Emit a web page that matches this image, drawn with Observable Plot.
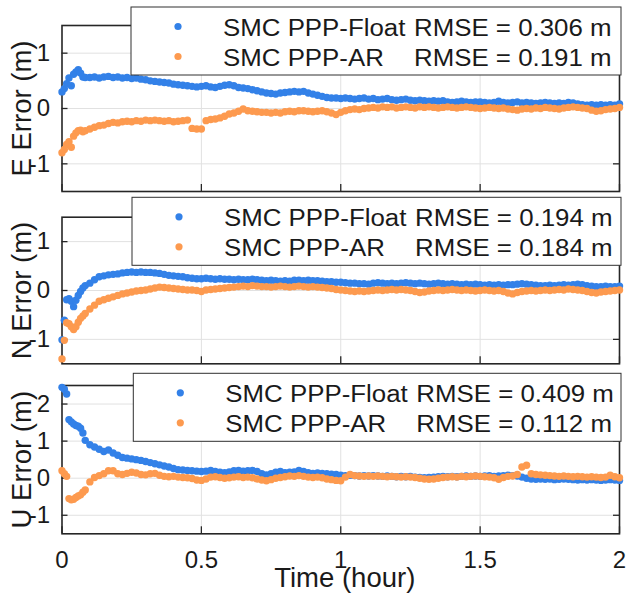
<!DOCTYPE html>
<html><head><meta charset="utf-8">
<script src="https://cdn.jsdelivr.net/npm/d3@7"></script>
<script src="https://cdn.jsdelivr.net/npm/@observablehq/plot@0.6"></script>
<style>
body{margin:0;background:#fff;}
#wrap{position:relative;width:627px;height:594px;overflow:hidden;font-family:"Liberation Sans",Arial,sans-serif;background:#fff;}
#wrap svg{display:block;}
#legend{position:absolute;left:0;top:0;}
</style></head><body><div id="wrap"></div>
<script>
// epochs in minutes (30 s for the first 5 minutes, then 1 min)
const timeMin = [0,0.5,1,1.5,2,2.5,3,3.5,4,4.5,5, ...d3.range(6,121)];

const eFloat = [0.30,0.36,0.45,0.55,0.41,0.62,0.66,0.70,0.64,0.57,0.56,
 0.56,0.57,0.55,0.57,0.58,0.56,0.57,0.55,0.56,0.54,
 0.55,0.53,0.52,0.50,0.49,0.48,0.47,0.46,0.44,0.43,
 0.42,0.41,0.40,0.39,0.40,0.41,0.39,0.38,0.40,0.42,
 0.43,0.41,0.38,0.37,0.36,0.34,0.32,0.30,0.28,0.27,
 0.26,0.28,0.29,0.30,0.31,0.30,0.31,0.28,0.26,0.24,
 0.22,0.20,0.19,0.19,0.18,0.19,0.18,0.17,0.18,0.19,
 0.17,0.18,0.16,0.17,0.18,0.16,0.15,0.16,0.17,0.15,
 0.14,0.15,0.14,0.13,0.14,0.13,0.14,0.12,0.11,0.12,
 0.13,0.12,0.11,0.12,0.12,0.11,0.10,0.11,0.13,0.11,
 0.10,0.11,0.12,0.10,0.11,0.10,0.09,0.10,0.11,0.10,
 0.09,0.10,0.09,0.11,0.10,0.08,0.07,0.06,0.07,0.06,
 0.07,0.06,0.07,0.06,0.08];
const eAR = [-0.80,-0.74,-0.65,-0.60,-0.70,-0.50,-0.44,-0.40,-0.39,-0.42,-0.40,
 -0.37,-0.34,-0.31,-0.30,-0.27,-0.25,-0.26,-0.24,-0.23,-0.24,
 -0.22,-0.23,-0.21,-0.22,-0.21,-0.22,-0.23,-0.22,-0.24,-0.23,
 -0.22,-0.21,-0.36,-0.37,-0.37,-0.22,-0.20,-0.19,-0.17,-0.14,
 -0.10,-0.08,-0.05,-0.01,-0.04,-0.05,-0.06,-0.07,-0.07,-0.08,
 -0.07,-0.08,-0.06,-0.05,-0.06,-0.04,-0.04,-0.05,-0.06,-0.05,
 -0.04,-0.06,-0.08,-0.11,-0.07,-0.04,-0.02,-0.01,-0.02,0.00,
 0.01,0.02,0.01,0.03,0.02,0.03,0.01,0.02,0.03,0.02,
 0.01,0.03,0.02,0.03,0.02,0.01,0.02,0.03,0.02,0.01,
 0.02,0.03,0.02,0.01,0.00,0.01,0.02,0.01,0.00,0.01,
 -0.01,-0.02,-0.03,-0.01,0.00,-0.01,0.01,0.00,0.02,0.01,
 0.00,-0.01,0.01,0.02,0.03,0.02,0.01,0.00,-0.03,-0.05,
 -0.04,-0.02,-0.01,0.00,0.02];

const nFloat = [-1.01,-0.61,-0.19,-0.17,-0.22,-0.33,-0.20,-0.10,-0.02,0.05,0.10,
 0.15,0.22,0.28,0.30,0.32,0.33,0.34,0.36,0.37,0.38,
 0.37,0.38,0.37,0.37,0.36,0.35,0.33,0.31,0.30,0.29,
 0.28,0.26,0.25,0.24,0.24,0.25,0.24,0.23,0.24,0.23,
 0.23,0.22,0.23,0.22,0.22,0.23,0.22,0.21,0.20,0.21,
 0.20,0.19,0.20,0.19,0.21,0.21,0.20,0.21,0.20,0.20,
 0.19,0.18,0.18,0.17,0.17,0.16,0.15,0.15,0.14,0.14,
 0.13,0.15,0.16,0.15,0.14,0.15,0.14,0.15,0.16,0.15,
 0.14,0.15,0.14,0.13,0.14,0.15,0.14,0.13,0.14,0.13,
 0.12,0.13,0.12,0.13,0.12,0.11,0.12,0.11,0.12,0.11,
 0.12,0.12,0.13,0.14,0.13,0.12,0.11,0.10,0.10,0.11,
 0.10,0.11,0.12,0.11,0.12,0.13,0.12,0.10,0.09,0.08,
 0.08,0.09,0.08,0.08,0.09];
const nAR = [-1.40,-1.02,-0.66,-0.68,-0.74,-0.80,-0.74,-0.65,-0.57,-0.52,-0.47,
 -0.38,-0.30,-0.22,-0.19,-0.16,-0.13,-0.10,-0.07,-0.05,-0.03,
 -0.01,0.00,0.01,0.03,0.05,0.07,0.06,0.05,0.04,0.03,
 0.02,0.01,0.01,0.00,-0.02,0.01,0.02,0.03,0.04,0.05,
 0.06,0.07,0.08,0.09,0.08,0.10,0.09,0.08,0.08,0.07,
 0.08,0.09,0.08,0.07,0.08,0.09,0.08,0.07,0.08,0.07,
 0.06,0.05,0.04,0.02,0.01,0.00,-0.01,-0.02,-0.01,-0.02,
 -0.01,0.00,0.01,0.00,0.01,0.02,0.01,0.02,0.01,0.00,
 -0.02,-0.04,-0.03,-0.01,0.00,0.01,0.00,0.01,0.02,0.01,
 0.00,0.01,0.00,-0.01,0.00,0.01,0.00,-0.01,0.00,-0.02,
 -0.05,-0.07,-0.04,-0.02,-0.01,0.00,-0.01,0.00,0.01,0.00,
 0.01,0.02,0.01,0.03,0.02,0.01,0.00,-0.02,-0.04,-0.05,
 -0.03,-0.02,-0.01,0.00,0.01];

const uFloat = [2.45,2.40,2.27,1.58,1.52,1.46,1.42,1.40,1.35,1.22,1.02,
 0.90,0.84,0.78,0.72,0.76,0.68,0.62,0.56,0.54,0.52,
 0.50,0.48,0.45,0.42,0.39,0.36,0.33,0.30,0.26,0.23,
 0.22,0.21,0.20,0.19,0.18,0.19,0.21,0.18,0.16,0.15,
 0.17,0.20,0.21,0.19,0.20,0.21,0.18,0.12,0.09,0.12,
 0.16,0.18,0.15,0.16,0.17,0.21,0.18,0.15,0.13,0.14,
 0.13,0.12,0.11,0.10,0.08,0.07,0.08,0.07,0.06,0.07,
 0.06,0.07,0.06,0.05,0.06,0.05,0.04,0.05,0.04,0.05,
 0.03,0.02,0.01,0.02,0.03,0.04,0.05,0.04,0.05,0.04,
 0.05,0.06,0.05,0.06,0.05,0.06,0.07,0.05,0.06,0.07,
 0.08,0.07,0.06,0.03,0.00,-0.02,-0.03,-0.02,-0.03,-0.02,
 -0.04,-0.03,-0.02,-0.03,-0.04,-0.05,-0.04,-0.05,-0.04,-0.05,
 -0.06,-0.05,-0.04,-0.05,-0.06];
const uAR = [0.20,0.12,0.05,-0.55,-0.58,-0.57,-0.52,-0.48,-0.45,-0.38,-0.32,
 -0.10,0.02,0.07,0.12,0.20,0.20,0.12,0.10,0.13,0.16,
 0.14,0.10,0.09,0.12,0.13,0.08,0.05,0.04,0.05,0.03,
 0.02,0.01,-0.01,-0.05,-0.06,-0.02,0.03,0.04,0.02,0.00,
 0.01,0.03,0.04,0.02,0.03,0.01,-0.02,-0.05,-0.07,-0.04,
 0.00,0.02,0.04,0.06,0.05,0.07,0.05,0.03,0.02,0.03,
 0.01,-0.02,-0.04,-0.06,-0.07,0.03,0.10,0.07,0.06,0.05,
 0.06,0.05,0.06,0.05,0.04,0.05,0.04,0.03,0.04,0.03,
 0.02,0.00,-0.02,-0.03,-0.02,0.00,0.02,0.03,0.04,0.03,
 0.05,0.04,0.05,0.06,0.05,0.04,0.03,0.01,-0.03,0.02,
 0.05,0.06,0.10,0.30,0.35,0.12,0.10,0.09,0.08,0.07,
 0.06,0.05,0.06,0.05,0.04,0.05,0.04,0.03,0.04,0.03,
 0.02,0.03,0.08,0.04,0.01];

const seriesNames = ["SMC PPP-Float", "SMC PPP-AR"];
const panelLabels = ["E Error (m)", "N Error (m)", "U Error (m)"];
const rmseFloat = [0.306, 0.194, 0.409];
const rmseAR = [0.191, 0.184, 0.112];
const xTicks = [0, 0.5, 1, 1.5, 2];
const yTicksEN = [-1, 0, 1];
const yTicksU = [-1, 0, 1, 2];
const xLabel = "Time (hour)";
const colors = ["#3381e8", "#fd9a4f"];

const W = 627, ML = 61.5, MR = 8;
const ink = "#1a1a1a", frameInk = "#262626", gridInk = "#e1e1e1";

function panel(o) {
  const ph = o.height - o.mt - o.mb, pw = W - ML - MR;
  const rows = arr => timeMin.map((t, i) => ({t: t / 60, v: arr[i]}));
  const marks = [
    Plot.ruleX(xTicks.slice(1, -1), {x: d => d, stroke: gridInk, strokeWidth: 1}),
    Plot.ruleY(o.yTicks, {y: d => d, stroke: gridInk, strokeWidth: 1}),
    Plot.frame({stroke: frameInk, strokeWidth: 1.6}),
    Plot.tickY(o.yTicks, {y: d => d, insetRight: pw - 6, stroke: frameInk, strokeWidth: 1.3}),
    Plot.tickY(o.yTicks, {y: d => d, insetLeft: pw - 6, stroke: frameInk, strokeWidth: 1.3}),
    Plot.tickX(xTicks, {x: d => d, insetTop: ph - 7, stroke: frameInk, strokeWidth: 1.3}),
    Plot.dot(rows(o.float), {x: "t", y: "v", r: 3.7, fill: colors[0]}),
    Plot.dot(rows(o.ar), {x: "t", y: "v", r: 3.7, fill: colors[1]}),
    Plot.axisY(o.yTicks, {label: null, tickSize: 0, tickPadding: 12, tickFormat: d => String(d), fontSize: 24, fill: ink}),
    Plot.text([o.label], {text: d => d, frameAnchor: "left", textAnchor: "middle", lineAnchor: "middle", dx: -40, rotate: -90, fontSize: 27.5, fill: ink})
  ];
  if (o.showX) {
    marks.push(Plot.axisX(xTicks, {label: null, tickSize: 0, tickPadding: 17, tickFormat: d => String(d), fontSize: 24, fill: ink}));
    marks.push(Plot.text([xLabel], {text: d => d, frameAnchor: "bottom", textAnchor: "middle", lineAnchor: "middle", dy: 44, dx: 4, fontSize: 27.5, fill: ink}));
  }
  return Plot.plot({
    width: W, height: o.height,
    marginLeft: ML, marginRight: MR, marginTop: o.mt, marginBottom: o.mb,
    style: {background: "transparent", fontFamily: "Liberation Sans, Arial, sans-serif", fontSize: "24px", color: ink, overflow: "visible"},
    x: {domain: [0, 2], axis: o.showX ? undefined : null, label: null},
    y: {domain: o.yDomain, label: null},
    marks
  });
}

const wrap = document.getElementById("wrap");
wrap.appendChild(panel({float: eFloat, ar: eAR, yDomain: [-1.5, 1.5], yTicks: yTicksEN, label: panelLabels[0], height: 200, mt: 25, mb: 9}));
wrap.appendChild(panel({float: nFloat, ar: nAR, yDomain: [-1.5, 1.5], yTicks: yTicksEN, label: panelLabels[1], height: 172, mt: 16.7, mb: 8.7}));
wrap.appendChild(panel({float: uFloat, ar: uAR, yDomain: [-1.5, 2.5], yTicks: yTicksU, label: panelLabels[2], height: 222, mt: 13, mb: 60.7, showX: true}));

// legends
const lg = d3.select(wrap).append("svg").attr("id", "legend").attr("width", W).attr("height", 594)
  .style("font-family", "Liberation Sans, Arial, sans-serif");
const boxes = [[131, 7], [132, 197.3], [133.3, 373.3]];
boxes.forEach(([bx, by], i) => {
  const g = lg.append("g");
  g.append("rect").attr("x", bx).attr("y", by).attr("width", 621 - bx).attr("height", 68)
    .attr("fill", "#fff").attr("stroke", "#303030").attr("stroke-width", 1);
  const vals = [rmseFloat[i], rmseAR[i]];
  [0, 1].forEach(k => {
    g.append("circle").attr("cx", bx + 47).attr("cy", by + 19.5 + 30 * k).attr("r", 3.6).attr("fill", colors[k]);
    const texts = [[seriesNames[k], bx + 92], [`RMSE = ${vals[k].toFixed(3)} m`, bx + 283]];
    texts.forEach(([s, x]) => {
      const t = g.append("text").attr("x", x).attr("y", by + 28.8 + 30 * k)
        .attr("font-size", 23.5).attr("fill", ink).text(s);
      const len = t.node().getComputedTextLength();
      t.attr("textLength", len * 1.1).attr("lengthAdjust", "spacingAndGlyphs");
    });
  });
});
</script></body></html>
